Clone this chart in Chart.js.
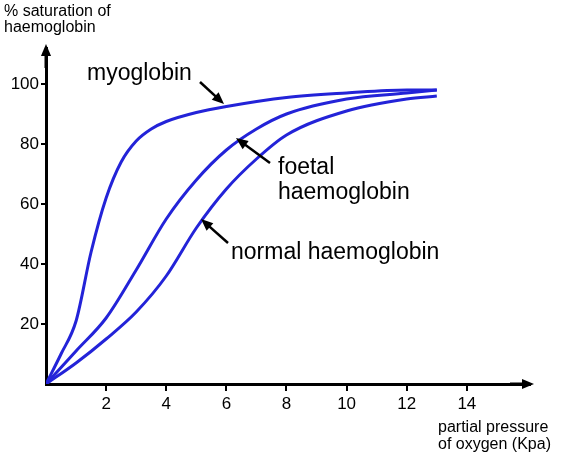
<!DOCTYPE html>
<html>
<head>
<meta charset="utf-8">
<script src="https://cdn.jsdelivr.net/npm/chart.js@4"></script>
<style>
  body { margin: 0; background: #fff; }
  #wrap { width: 564px; height: 458px; }
</style>
</head>
<body>
<div id="wrap"><canvas id="chart"></canvas></div>
<script>
// pressure (kPa) and saturation (%)
var myoX = [0, 0.5, 1, 1.5, 2, 2.5, 3, 3.5, 4, 5, 6, 8, 10, 12, 13];
var myoY = [0, 10, 21, 44, 62, 74, 81, 85, 87.5, 90.5, 92.5, 95.5, 97, 98, 98];
var foetalX = [0, 1, 2, 3, 4, 5, 6, 7, 8, 10, 12, 13];
var foetalY = [0, 11, 22, 38, 55, 68, 78, 85, 90, 95, 97, 98];
var normalX = [0, 1, 2, 3, 4, 5, 6, 7, 8, 10, 12, 13];
var normalY = [0, 7, 15, 24, 36, 52, 65, 75, 83, 91, 95, 96];
var xTicks = [2, 4, 6, 8, 10, 12, 14];
var yTicks = [20, 40, 60, 80, 100];

var BLUE = '#2323d8';
var FONT = '"Liberation Sans", Arial, sans-serif';

function pts(xs, ys) {
    return xs.map(function(x, i) { return { x: x, y: ys[i] }; });
}

function arrow(ctx, x1, y1, x2, y2) {
    var a = Math.atan2(y2 - y1, x2 - x1);
    ctx.beginPath();
    ctx.moveTo(x1, y1);
    ctx.lineTo(x2 - 8 * Math.cos(a), y2 - 8 * Math.sin(a));
    ctx.stroke();
    ctx.beginPath();
    ctx.moveTo(x2, y2);
    ctx.lineTo(x2 - 13 * Math.cos(a - 0.4), y2 - 13 * Math.sin(a - 0.4));
    ctx.lineTo(x2 - 13 * Math.cos(a + 0.4), y2 - 13 * Math.sin(a + 0.4));
    ctx.closePath();
    ctx.fill();
}

var decorations = {
    id: 'decorations',
    afterDraw: function(chart) {
        var ctx = chart.ctx;
        var ca = chart.chartArea;
        ctx.save();
        ctx.fillStyle = '#000';
        ctx.strokeStyle = '#000';
        ctx.lineWidth = 3;
        // axis arrowheads
        arrow(ctx, ca.right - 20, ca.bottom, ca.right + 4, ca.bottom);
        arrow(ctx, ca.left, ca.top + 20, ca.left, ca.top - 4);
        ctx.lineWidth = 2.5;
        arrow(ctx, 200, 82, 224, 104);
        arrow(ctx, 270, 163, 236, 138);
        arrow(ctx, 228, 243, 201, 219);
        ctx.textBaseline = 'alphabetic';
        ctx.font = '16px ' + FONT;
        ctx.fillText('% saturation of', 4, 16);
        ctx.fillText('haemoglobin', 4, 32);
        ctx.fillText('partial pressure', 438, 432);
        ctx.fillText('of oxygen (Kpa)', 438, 449);
        ctx.font = '23px ' + FONT;
        ctx.fillText('myoglobin', 87, 80);
        ctx.fillText('foetal', 278, 174);
        ctx.fillText('haemoglobin', 278, 199);
        ctx.fillText('normal haemoglobin', 231, 259);
        ctx.restore();
    }
};

function line(data) {
    return {
        data: data,
        borderColor: BLUE,
        borderWidth: 3,
        pointRadius: 0,
        cubicInterpolationMode: 'monotone',
        fill: false
    };
}

new Chart(document.getElementById('chart').getContext('2d'), {
    type: 'line',
    data: {
        datasets: [
            line(pts(myoX, myoY)),
            line(pts(foetalX, foetalY)),
            line(pts(normalX, normalY))
        ]
    },
    options: {
        responsive: true,
        maintainAspectRatio: false,
        animation: false,
        layout: { padding: { top: 48, right: 34, left: 0, bottom: 0 } },
        plugins: { legend: { display: false }, tooltip: { enabled: false } },
        scales: {
            x: {
                type: 'linear', min: 0, max: 16.1,
                afterFit: function(s) { s.height = 74; },
                grid: { drawOnChartArea: false, drawTicks: true, tickLength: 7, color: '#000', lineWidth: 2 },
                border: { color: '#000', width: 3 },
                afterBuildTicks: function(s) { s.ticks = xTicks.map(function(v) { return { value: v }; }); },
                ticks: { color: '#000', font: { size: 17, family: FONT }, padding: 3 }
            },
            y: {
                min: 0, max: 112,
                afterFit: function(s) { s.width = 46; },
                grid: { drawOnChartArea: false, drawTicks: true, tickLength: 5, color: '#000', lineWidth: 2 },
                border: { color: '#000', width: 3 },
                afterBuildTicks: function(s) { s.ticks = yTicks.map(function(v) { return { value: v }; }); },
                ticks: { color: '#000', font: { size: 17, family: FONT }, padding: 2 }
            }
        }
    },
    plugins: [decorations]
});
</script>
</body>
</html>
